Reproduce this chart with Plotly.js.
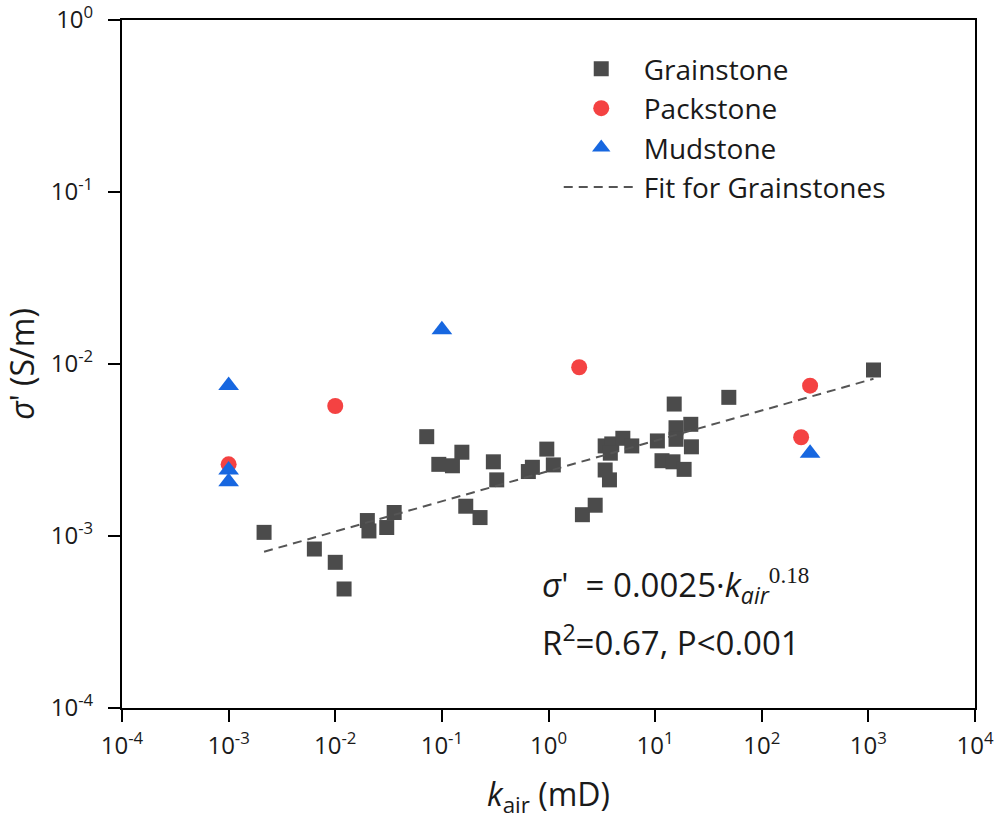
<!DOCTYPE html>
<html>
<head>
<meta charset="utf-8">
<script src="https://cdn.plot.ly/plotly-3.0.1.min.js"></script>
<style>html,body{margin:0;padding:0;background:#fff;}#chart{width:996px;height:823px;}</style>
</head>
<body>
<div id="chart"></div>
<script>
// Grainstone samples: air permeability (mD) and conductivity (S/m)
const grainK = [0.00215, 0.00637, 0.0100, 0.0121, 0.0200, 0.0207, 0.0304, 0.0357, 0.0721, 0.0936,
  0.1256, 0.154, 0.1675, 0.228, 0.304, 0.327, 0.647, 0.706, 0.964, 1.11,
  2.08, 2.74, 3.40, 3.92, 3.80, 3.40, 3.73, 4.98, 6.04, 10.5,
  11.6, 14.7, 18.7, 15.1, 15.7, 15.7, 21.6, 21.9, 49.1, 1117];
const grainS = [0.00105, 0.00084, 0.000703, 0.000492, 0.00123, 0.00107, 0.00112, 0.00137, 0.00378, 0.00261,
  0.00256, 0.00307, 0.00149, 0.00128, 0.0027, 0.00212, 0.00237, 0.00251, 0.0032, 0.00259,
  0.00133, 0.00151, 0.00334, 0.00343, 0.00303, 0.00242, 0.00212, 0.0037, 0.00334, 0.00357,
  0.00274, 0.0027, 0.00244, 0.00585, 0.00426, 0.00365, 0.00446, 0.0033, 0.0064, 0.00923];
const packK = [0.001, 0.01, 1.94, 234, 284];
const packS = [0.00261, 0.0057, 0.00957, 0.00375, 0.00748];
const mudK = [0.001, 0.001, 0.001, 0.1, 284];
const mudS = [0.0075, 0.00242, 0.00207, 0.0158, 0.00303];
const fitK = [0.00215, 1117];
const fitS = [0.00081, 0.0082];
const xTickVals = [1e-4, 1e-3, 1e-2, 1e-1, 1, 10, 100, 1000, 10000];
const xTickText = ['10<sup>-4</sup>', '10<sup>-3</sup>', '10<sup>-2</sup>', '10<sup>-1</sup>', '10<sup>0</sup>',
  '10<sup>1</sup>', '10<sup>2</sup>', '10<sup>3</sup>', '10<sup>4</sup>'];
const yTickVals = [1e-4, 1e-3, 1e-2, 1e-1, 1];
const yTickText = ['10<sup>-4</sup>', '10<sup>-3</sup>', '10<sup>-2</sup>', '10<sup>-1</sup>', '10<sup>0</sup>'];

const FONT = 'Open Sans, Noto Sans, sans-serif';
const INK = '#1a1a1a';

const traces = [
  {x: grainK, y: grainS, type: 'scatter', mode: 'markers', name: 'Grainstone',
   marker: {symbol: 'square', size: 15, color: '#4b4b4b'}},
  {x: packK, y: packS, type: 'scatter', mode: 'markers', name: 'Packstone',
   marker: {symbol: 'circle', size: 16, color: '#f44242'}},
  {x: mudK, y: mudS, type: 'scatter', mode: 'markers', name: 'Mudstone',
   marker: {symbol: 'triangle-up', size: 18, color: '#1767e0'}},
  {x: fitK, y: fitS, type: 'scatter', mode: 'lines', name: 'Fit for Grainstones',
   line: {color: '#555555', width: 2, dash: '9px,6px'}}
];

const axisCommon = {
  type: 'log', showgrid: false, zeroline: false,
  showline: true, linecolor: '#000', linewidth: 2, mirror: true,
  ticks: 'outside', ticklen: 12, tickwidth: 2, tickcolor: '#000',
  tickmode: 'array', ticklabeloverflow: 'allow',
  tickfont: {family: FONT, size: 24, color: INK}
};

const layout = {
  width: 996, height: 823,
  margin: {l: 122, r: 21, t: 20, b: 115},
  paper_bgcolor: '#fff', plot_bgcolor: '#fff',
  font: {family: FONT, color: INK},
  xaxis: Object.assign({}, axisCommon, {
    range: [-4, 4], tickvals: xTickVals, ticktext: xTickText, ticklabelstandoff: 3,
    title: {text: '<i>k</i><sub>air</sub> (mD)', font: {family: FONT, size: 32, color: INK}, standoff: 24}
  }),
  yaxis: Object.assign({}, axisCommon, {
    range: [-4, 0], tickvals: yTickVals, ticktext: yTickText, ticklabelstandoff: 10,
    title: {text: "<i>σ</i>' (S/m)", font: {family: FONT, size: 32, color: INK}, standoff: 8}
  }),
  legend: {
    x: 0.512, y: 0.965, xanchor: 'left', yanchor: 'top',
    bgcolor: 'rgba(0,0,0,0)', borderwidth: 0,
    font: {family: FONT, size: 28, color: INK},
    itemwidth: 75, tracegroupgap: 0
  },
  showlegend: true,
  annotations: [
    {xref: 'paper', yref: 'paper', x: 0.49, y: 0.176, xanchor: 'left', yanchor: 'middle', showarrow: false,
     text: "<i>σ</i>'  = 0.0025·<i>k<sub>air</sub></i><sup><span style=\"font-family:'Liberation Serif', serif\">0.18</span></sup>",
     font: {family: FONT, size: 33, color: INK}},
    {xref: 'paper', yref: 'paper', x: 0.49, y: 0.098, xanchor: 'left', yanchor: 'middle', showarrow: false,
     text: 'R<sup>2</sup>=0.67, P<0.001',
     font: {family: FONT, size: 33, color: INK}}
  ]
};

Plotly.newPlot('chart', traces, layout, {displayModeBar: false, staticPlot: true});
</script>
</body>
</html>
